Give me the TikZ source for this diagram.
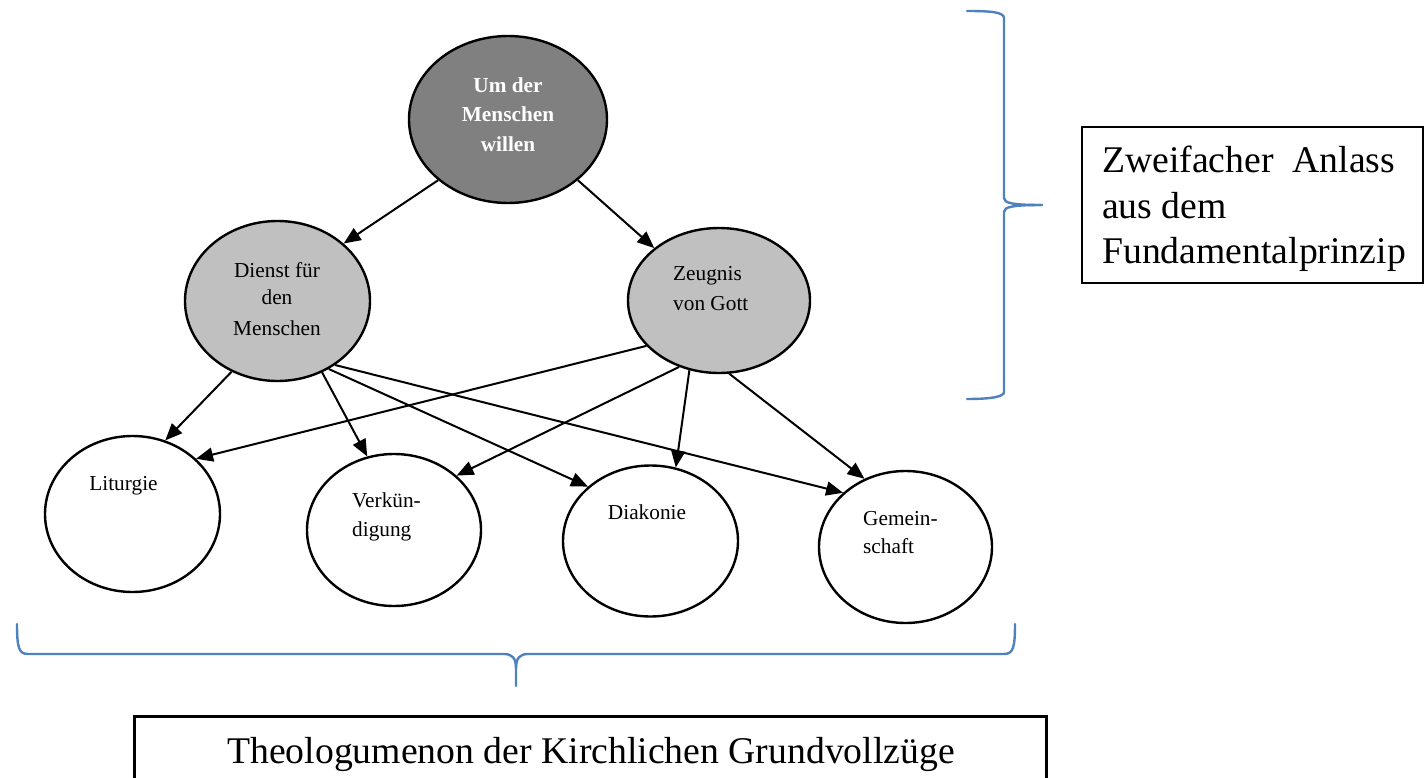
\documentclass[tikz,border=0pt]{standalone}
\usepackage{fontspec}
\setmainfont{Liberation Serif}
\usetikzlibrary{arrows.meta,shapes.geometric}
\definecolor{darkfill}{HTML}{808080}
\definecolor{lightfill}{HTML}{C0C0C0}
\definecolor{braceblue}{HTML}{4F81BD}
\tikzset{
  ell/.style={ellipse, draw=black, line width=2.4pt, inner sep=0pt},
  conn/.style={line width=2pt, draw=black, -{Triangle[length=17pt,width=14pt]}},
  smalltxt/.style={font=\fontsize{21.3}{29}\selectfont, inner sep=0pt, text=black},
  boldtxt/.style={font=\fontsize{21.3}{29}\selectfont\bfseries, inner sep=0pt, text=white},
  bigtxt/.style={font=\fontsize{37.7}{45}\selectfont, inner sep=0pt, text=black},
  framebox/.style={draw=black, line width=2.5pt, inner sep=0pt},
  bracepath/.style={draw=braceblue, line width=2.4pt, line cap=round}
}
\begin{document}
\begin{tikzpicture}[x=1pt,y=-1pt]
\useasboundingbox (0,0) rectangle (1425,778);
\fill[white] (0,0) rectangle (1425,778);

% ellipses
\node[ell, fill=darkfill, minimum width=198pt, minimum height=167pt] (top) at (508,119.5) {};
\node[ell, fill=lightfill, minimum width=185pt, minimum height=160pt] (dienst) at (277.5,301) {};
\node[ell, fill=lightfill, minimum width=182pt, minimum height=145pt] (zeugnis) at (719,300.5) {};
\node[ell, fill=white, minimum width=175pt, minimum height=156pt] (lit) at (132.5,514) {};
\node[ell, fill=white, minimum width=174pt, minimum height=152pt] (verk) at (394,530) {};
\node[ell, fill=white, minimum width=175pt, minimum height=151pt] (diak) at (650.5,541) {};
\node[ell, fill=white, minimum width=173pt, minimum height=152pt] (gem) at (905.5,547) {};

% texts in ellipses
\node[boldtxt, anchor=base] (t1) at (508,93) {Um der};
\node[boldtxt, anchor=base] (t2) at (508,122) {Menschen};
\node[boldtxt, anchor=base] (t3) at (508,152) {willen};
\node[smalltxt, anchor=base] (d1) at (277,277) {Dienst für};
\node[smalltxt, anchor=base] (d2) at (277,305) {den};
\node[smalltxt, anchor=base] (d3) at (277,335) {Menschen};
\node[smalltxt, anchor=base west] (z1) at (673,280) {Zeugnis};
\node[smalltxt, anchor=base west] (z2) at (673,310) {von Gott};
\node[smalltxt, anchor=base] (l1) at (123.5,490) {Liturgie};
\node[smalltxt, anchor=base west] (v1) at (352,507) {Verkün-};
\node[smalltxt, anchor=base west] (v2) at (352,536) {digung};
\node[smalltxt, anchor=base] (k1) at (647,519) {Diakonie};
\node[smalltxt, anchor=base west] (g1) at (863,525) {Gemein-};
\node[smalltxt, anchor=base west] (g2) at (863,553) {schaft};

% connectors
\draw[conn] (top.221) -- (dienst.41);
\draw[conn] (top.319) -- (zeugnis.141);
\draw[conn] (dienst.237) -- (lit.66);
\draw[conn] (dienst.302) -- (verk.110);
\draw[conn] (dienst.307) -- (diak.139);
\draw[conn] (dienst.312) -- (gem.139);
\draw[conn] (zeugnis.212) -- (lit.41);
\draw[conn] (zeugnis.239) -- (verk.41);
\draw[conn] (zeugnis.247) -- (diak.71);
\draw[conn] (zeugnis.278) -- (gem.121);

% right brace
\draw[bracepath] (967,11) .. controls (990,11) and (1004,12) .. (1004,18) -- (1004,198)
  .. controls (1004,203) and (1012,205) .. (1042,205);
\draw[bracepath] (1042,205) .. controls (1012,205) and (1004,207) .. (1004,212) -- (1004,392)
  .. controls (1004,397) and (990,399) .. (967,399);

% bottom brace
\draw[bracepath] (17,624) .. controls (17,648) and (19,654) .. (28,654) -- (504,654)
  .. controls (512,654) and (516,658) .. (516,668) -- (516,686);
\draw[bracepath] (516,668) .. controls (516,658) and (520,654) .. (528,654) -- (1004,654)
  .. controls (1013,654) and (1015,648) .. (1015,624);

% right box
\node[framebox, minimum width=341pt, minimum height=156pt] (rbox) at (1252.5,205) {};
\node[bigtxt, anchor=base west] (r1) at (1102,173) {Zweifacher\ \ Anlass};
\node[bigtxt, anchor=base west] (r2) at (1102,219) {aus dem};
\node[bigtxt, anchor=base west] (r3) at (1102,264) {Fundamentalprinzip};

% bottom box
\node[framebox, minimum width=912pt, minimum height=80pt] (bbox) at (590.7,756.7) {};
\node[bigtxt, anchor=base] (b1) at (591,763) {Theologumenon der Kirchlichen Grundvollzüge};
\end{tikzpicture}
\end{document}
